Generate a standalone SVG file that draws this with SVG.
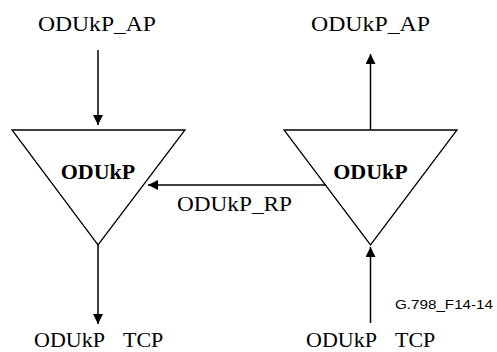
<svg xmlns="http://www.w3.org/2000/svg" width="497" height="352" viewBox="0 0 497 352">
<style>
.t{font-family:"Liberation Serif","Times New Roman",serif;font-size:22px;fill:#000}
.b{font-family:"Liberation Serif","Times New Roman",serif;font-size:22px;font-weight:bold;fill:#000}
.s{font-family:"Liberation Sans",Arial,sans-serif;font-size:13px;fill:#000}
.tri{fill:#fff;stroke:#000;stroke-width:1.3}
.ln{stroke:#000;stroke-width:1.5;fill:none}
</style>
<defs>
<marker id="ah" markerWidth="10" markerHeight="10" refX="10" refY="5" orient="auto" markerUnits="userSpaceOnUse">
<path d="M0,0 L10,5 L0,10 Z" fill="#000"/>
</marker>
</defs>
<rect width="497" height="352" fill="#fff"/>
<g id="left-node">
<polygon class="tri" points="12,130 185,130 98,245"/>
<text class="b" x="98" y="179" text-anchor="middle">ODUkP</text>
</g>
<g id="right-node">
<polygon class="tri" points="284,130 457,130 370.5,245"/>
<text class="b" x="370.5" y="179" text-anchor="middle">ODUkP</text>
</g>
<g id="labels">
<text class="t" x="38" y="31" textLength="118" lengthAdjust="spacingAndGlyphs">ODUkP_AP</text>
<text class="t" x="311" y="31" textLength="119" lengthAdjust="spacingAndGlyphs">ODUkP_AP</text>
<text class="t" x="177" y="211" textLength="115" lengthAdjust="spacingAndGlyphs">ODUkP_RP</text>
<text class="t" x="34" y="347"><tspan>ODUkP</tspan><tspan x="123">TCP</tspan></text>
<text class="t" x="306" y="347"><tspan>ODUkP</tspan><tspan x="395">TCP</tspan></text>
<text class="s" x="395" y="309" textLength="98" lengthAdjust="spacingAndGlyphs">G.798_F14-14</text>
</g>
<g id="connectors">
<line class="ln" x1="98" y1="50" x2="98" y2="125" marker-end="url(#ah)"/>
<line class="ln" x1="370.5" y1="130" x2="370.5" y2="54" marker-end="url(#ah)"/>
<line class="ln" x1="98" y1="245" x2="98" y2="324" marker-end="url(#ah)"/>
<line class="ln" x1="370.5" y1="323" x2="370.5" y2="247" marker-end="url(#ah)"/>
<line class="ln" x1="326" y1="185" x2="148" y2="185" marker-end="url(#ah)"/>
</g>
</svg>
